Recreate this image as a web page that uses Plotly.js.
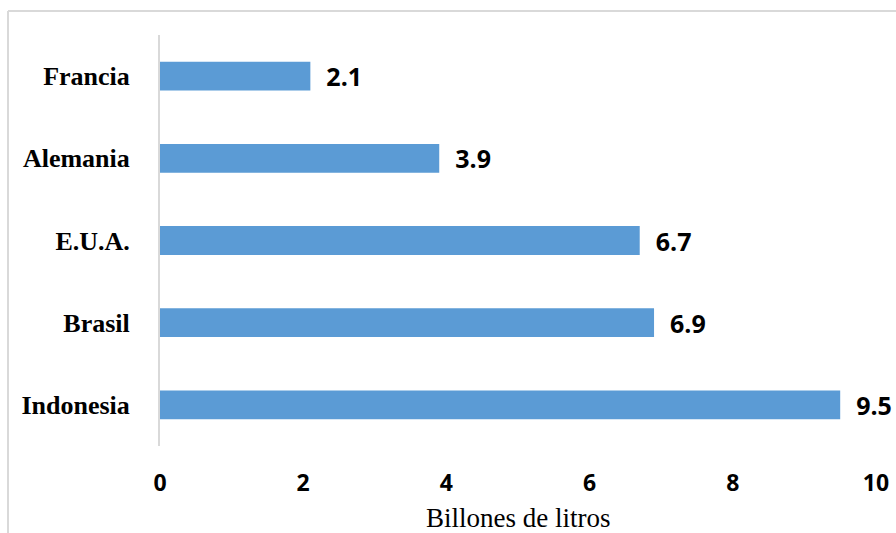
<!DOCTYPE html>
<html>
<head>
<meta charset="utf-8">
<script src="https://cdn.plot.ly/plotly-3.0.1.min.js"></script>
<style>html,body{margin:0;padding:0;background:#fff;}#chart{width:896px;height:533px;}</style>
</head>
<body>
<div id="chart"></div>
<script>
const countries = ["Francia", "Alemania", "E.U.A.", "Brasil", "Indonesia"];
const values = [2.1, 3.9, 6.7, 6.9, 9.5];
const xTicks = [0, 2, 4, 6, 8, 10];
const xTitle = "Billones de litros";

const SANS = "Open Sans";
const SERIF = "Liberation Serif";

const trace = {
  type: "bar",
  orientation: "h",
  x: values,
  y: countries,
  width: 0.35,
  marker: {color: "#5B9BD5"},
  text: values.map(v => v.toFixed(1)),
  texttemplate: "\u00a0\u00a0%{text}",
  textposition: "outside",
  constraintext: "none",
  cliponaxis: false,
  textfont: {family: SANS, size: 25, color: "#000", weight: "bold"},
  hoverinfo: "none"
};

const layout = {
  width: 896, height: 533,
  margin: {l: 160, r: 20, t: 35, b: 87},
  paper_bgcolor: "#fff", plot_bgcolor: "#fff",
  showlegend: false,
  font: {family: SERIF},
  xaxis: {
    range: [0, 10], tickvals: xTicks, ticktext: xTicks.map(String),
    showgrid: false, zeroline: false, showline: false, ticks: "",
    ticklabelstandoff: 21,
    tickfont: {family: SANS, size: 23, color: "#000", weight: "bold"}
  },
  yaxis: {
    categoryorder: "array", categoryarray: countries.slice().reverse(),
    showgrid: false, zeroline: false, showline: true, linecolor: "#d9d9d9", linewidth: 2,
    ticks: "", ticklabelstandoff: 23,
    tickfont: {family: SERIF, size: 26, color: "#000", weight: "bold"}
  },
  annotations: [
    {text: xTitle, xref: "paper", yref: "paper", x: 0.5, y: -0.175,
      xanchor: "center", yanchor: "middle", showarrow: false,
      font: {family: SERIF, size: 27, color: "#000"}}
  ],
  shapes: [
    {type: "line", xref: "paper", yref: "paper", x0: -0.2123, x1: 1.03, y0: 1.0584, y1: 1.0584,
      line: {color: "#d9d9d9", width: 2}},
    {type: "line", xref: "paper", yref: "paper", x0: -0.2123, x1: -0.2123, y0: 1.0584, y1: -0.22,
      line: {color: "#d9d9d9", width: 2}}
  ]
};

Plotly.newPlot("chart", [trace], layout, {displayModeBar: false, staticPlot: true});
</script>
</body>
</html>
